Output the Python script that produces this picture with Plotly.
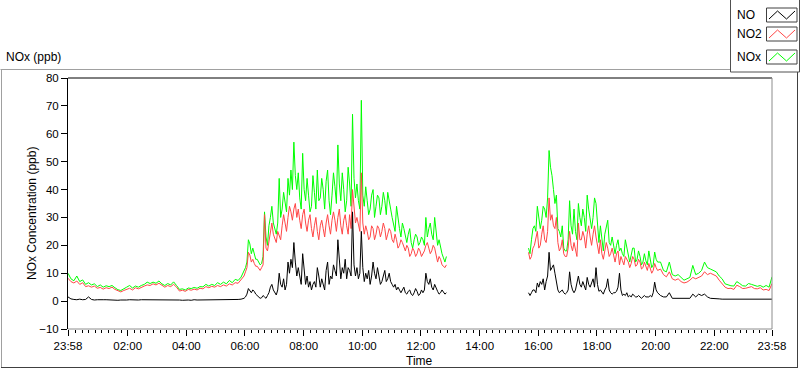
import plotly.graph_objects as go
import pandas as pd

# ---------------- data ----------------
# Night (quiet) part: 23:58 -> 05:52, one sample every 6 minutes
night_start, night_step = "2000-01-01 23:58", "6min"
no2_night = [8.2, 7.0, 6.5, 7.2, 6.0, 6.6, 5.2, 5.5, 5.0, 5.4,
             4.6, 4.9, 4.3, 4.8, 4.5, 5.0, 4.2, 3.6, 3.3, 3.8,
             4.3, 4.6, 4.0, 4.8, 4.4, 5.0, 5.4, 5.8, 5.6, 6.2,
             5.8, 6.4, 5.6, 5.0, 5.6, 5.2, 6.0, 5.0, 3.6, 3.9,
             3.5, 4.2, 3.9, 4.3, 4.0, 4.6, 4.4, 5.2, 4.8, 5.3,
             5.0, 5.6, 5.2, 5.8, 5.4, 6.2, 5.8, 6.6, 6.4, 7.6]
nox_night = [10.0, 8.0, 7.3, 9.0, 7.0, 7.6, 6.0, 6.6, 5.8, 6.2,
             5.2, 5.8, 5.0, 5.5, 5.2, 5.6, 4.8, 4.1, 3.8, 4.3,
             5.0, 5.6, 4.7, 5.4, 5.0, 5.6, 6.0, 6.8, 6.3, 6.8,
             6.4, 7.2, 6.2, 5.6, 6.3, 5.8, 6.9, 5.6, 4.2, 4.4,
             4.0, 4.7, 4.5, 4.9, 4.6, 5.2, 5.1, 6.0, 5.4, 6.0,
             5.6, 6.6, 6.0, 6.8, 6.2, 7.4, 6.6, 7.8, 7.4, 8.6]
no_night = [1.5, 0.8, 0.6, 0.5, 0.7, 0.5, 0.6, 1.5, 0.6, 0.4,
            0.5, 0.4, 0.5, 0.5, 0.4, 0.5, 0.4, 0.3, 0.4, 0.3,
            0.4, 0.5, 0.4, 0.3, 0.4, 0.5, 0.5, 0.4, 0.5, 0.4,
            0.5, 0.4, 0.5, 0.4, 0.5, 0.6, 0.5, 0.6, 0.4, 0.3,
            0.4, 0.4, 0.3, 0.5, 0.4, 0.4, 0.5, 0.5, 0.4, 0.5,
            0.6, 0.5, 0.5, 0.6, 0.6, 0.5, 0.6, 0.6, 0.6, 0.7]

# Morning peak: 05:58 -> 12:52, one sample every 3 minutes
morning_start, morning_step = "2000-01-02 05:58", "3min"
no2_morning = [9.0, 10.5, 12, 17.5, 16.5, 14, 15, 13.5, 12.5, 12.5,
               11.5, 11, 12, 13, 31, 19, 18, 22, 26, 28,
               24, 22, 21, 25, 23, 22, 27, 31, 28, 25,
               30, 34, 32, 29, 33, 35, 30, 33, 29, 26,
               31, 33, 28, 25, 29, 31, 26, 23, 27, 30,
               25, 22, 27, 29, 26, 23, 28, 31, 27, 24,
               29, 32, 29, 25, 30, 33, 27, 24, 29, 31,
               27, 24, 31, 26, 40, 33, 28, 30, 27, 25,
               46, 28, 24, 27, 25, 22, 23, 27, 26, 22,
               24, 27, 26, 23, 25, 28, 26, 22, 24, 26,
               25, 22, 21, 24, 22, 19, 20, 22, 21, 19,
               18, 20, 19, 16, 17, 19, 18, 16, 17, 19,
               18, 16, 17, 18, 20, 21, 19, 17, 18, 20,
               19, 16, 14, 16, 15, 13, 12.5, 12, 13]
nox_morning = [10.5, 12, 14, 22, 20.5, 17, 19, 17, 15, 15,
               14, 13, 13.5, 16, 32, 23, 20, 27, 30, 34,
               28, 26, 24, 28, 44, 30, 33, 39, 36, 32,
               44, 38, 47, 40, 57, 45, 40, 46, 37, 33,
               53, 40, 36, 44, 38, 32, 34, 45, 39, 33,
               47, 36, 37, 44, 40, 33, 43, 47, 36, 31,
               38, 46, 41, 35, 56, 42, 36, 46, 40, 32,
               36, 48, 42, 34, 67, 44, 37, 42, 36, 33,
               72, 38, 34, 41, 36, 31, 33, 38, 40, 30,
               34, 38, 37, 31, 34, 39, 36, 31, 39, 35,
               33, 30, 27, 25, 34, 29, 26, 23, 28, 26,
               23, 21, 24, 26, 21, 19, 22, 24, 23, 20,
               21, 23, 22, 20, 30, 23, 26, 28, 24, 22,
               30, 24, 20, 22, 19, 17, 15.5, 14, 16]
no_morning = [1.0, 1.5, 2.5, 4.5, 3.8, 3, 4.0, 3.5, 2.5, 2,
              1.5, 1, 1.2, 2, 1.5, 1, 2.0, 3, 5.0, 6,
              4.0, 3, 2.2, 4, 10, 6, 5, 8, 4, 6,
              14, 10, 15, 12, 21, 14, 9, 12, 8, 6,
              17, 10, 6, 9, 5, 7, 4, 6, 7, 5,
              12, 9, 5, 8, 6, 4, 11, 14, 6, 9,
              8, 13, 11, 9, 22, 14, 8, 12, 10, 15,
              8, 12, 11, 9, 32, 13, 9, 12, 8, 10,
              25, 12, 7, 10, 8, 11, 6, 9, 14, 10,
              8, 12, 9, 6, 7, 9, 11, 7, 8, 10,
              7, 6, 5, 6, 4, 5, 4, 3, 4, 5,
              3, 2.5, 3.5, 4, 2.5, 2, 3, 4.5, 3.5, 2,
              2.5, 4, 3, 4, 10, 7, 6, 8, 5, 4,
              6, 4.5, 3.5, 2.5, 3, 4, 3, 2.5, 3]

# Afternoon: 15:40 -> 20:04, one sample every 3 minutes
afternoon_start, afternoon_step = "2000-01-02 15:40", "3min"
no2_afternoon = [17.5, 15, 16, 19, 20, 22, 25, 19, 20, 24,
                 27, 22, 21, 25, 37, 29, 31, 27, 26, 30,
                 21, 18, 19, 22, 17, 16, 16, 19, 25, 20,
                 18, 21, 19, 16, 28, 22, 22, 25, 23, 19,
                 24, 27, 23, 20, 24, 27, 23, 19, 17, 22,
                 17, 15, 18, 21, 19, 16, 17, 19, 16.5, 14,
                 17, 18, 13, 16, 14.5, 13, 16, 15, 14, 12,
                 13.5, 16, 15, 12.5, 13, 15, 14, 11.5, 12, 14,
                 12, 11, 13.5, 12, 10, 11, 13.5, 12, 11]
nox_afternoon = [19, 17, 22, 26, 27, 25, 34, 30, 26, 29,
                 34, 33, 30, 37, 54, 48, 45, 40, 35, 38,
                 26, 25, 23, 27, 19, 18, 18, 22, 36, 27,
                 24, 33, 25, 22, 35, 30, 27, 33, 30, 25,
                 38, 33, 29, 26, 30, 37, 35, 26, 21, 27,
                 22, 18, 24, 26, 29, 21, 20, 23, 19, 17,
                 20, 22, 18, 19, 17, 16, 22, 19, 16, 14,
                 16.5, 19, 19, 14, 15, 18, 16, 13, 14, 17,
                 14.5, 13, 18, 15, 12, 13, 17.6, 15, 14]
no_afternoon = [3, 2, 3, 4, 4, 3, 6.5, 5, 7, 6,
                8, 4, 7, 9, 17.5, 11, 12, 13, 10, 6,
                4, 3, 3.5, 4, 3, 2.5, 3, 4, 10.5, 6,
                4, 3, 4, 6, 9, 6, 5, 7, 5, 4,
                8.5, 6, 5, 7, 8, 5, 12, 6, 3.5, 4,
                3, 2.5, 4, 5, 8, 4, 3, 2.5, 3, 3,
                3.5, 5, 10, 4, 2, 2.5, 2, 3, 1.5, 2,
                1.5, 2.5, 2, 1.5, 1.5, 2, 1.5, 1, 1.5, 2,
                1.5, 1.5, 1.5, 2, 1.5, 3, 6.8, 4, 3]

# Evening: 20:10 -> 23:58, one sample every 6 minutes
evening_start, evening_step = "2000-01-02 20:10", "6min"
no2_evening = [11.5, 9.5, 8.7, 10.5, 8,
               7.5, 8, 7, 6.5, 6.8, 7.5, 8.5, 8, 8.5, 9,
               10.5, 9.5, 10, 9.5, 9, 7.5, 6.3, 5, 4.5, 4.6,
               4.2, 5.7, 5.2, 4.5, 4.6, 5.0, 5.2, 4.5, 4.4, 4.8,
               4.0, 4.2, 3.8, 6.3]
nox_evening = [14, 11, 10.5, 14, 9.5,
               9, 9.5, 8.5, 7.5, 8, 8.5, 12.8, 9.5, 10, 11,
               14, 12, 11.5, 11, 10.5, 9, 8, 6.2, 5.7, 5.5,
               5.4, 7, 6.3, 5.5, 5.4, 6.3, 6.0, 5.7, 5.3, 5.6,
               5.0, 5.6, 5.0, 8.7]
no_evening = [2, 1.5, 1.5, 3, 1,
              1, 1, 1, 1, 1, 1, 2.5, 1.5, 2.5, 2,
              2.5, 1.5, 1, 1, 0.8, 0.8, 0.7, 0.7, 0.6, 0.7,
              0.6, 0.7, 0.6, 0.7, 0.6, 0.7, 0.6, 0.7, 0.6, 0.6,
              0.6, 0.7, 0.6, 0.7]

gap_time = "2000-01-02 14:00"   # no data between 12:52 and 15:40

x_start = "2000-01-01 23:58"
x_end = "2000-01-02 23:58"
tick_times = [x_start, "2000-01-02 02:00", "2000-01-02 04:00", "2000-01-02 06:00",
              "2000-01-02 08:00", "2000-01-02 10:00", "2000-01-02 12:00",
              "2000-01-02 14:00", "2000-01-02 16:00", "2000-01-02 18:00",
              "2000-01-02 20:00", "2000-01-02 22:00", x_end]
tick_labels = ["23:58", "02:00", "04:00", "06:00", "08:00", "10:00", "12:00",
               "14:00", "16:00", "18:00", "20:00", "22:00", "23:58"]
y_ticks = [-10, 0, 10, 20, 30, 40, 50, 60, 70, 80]

series_names = ["NO", "NO2", "NOx"]
series_colors = ["#000000", "#ff4646", "#00ff00"]

# ---------------- build ----------------
def rng(start, n, step):
    return list(pd.date_range(start, periods=n, freq=step))

times = (rng(night_start, len(no2_night), night_step)
         + rng(morning_start, len(no2_morning), morning_step)
         + [pd.Timestamp(gap_time)]
         + rng(afternoon_start, len(no2_afternoon), afternoon_step)
         + rng(evening_start, len(no2_evening), evening_step))

data = {
    "NO": no_night + no_morning + [None] + no_afternoon + no_evening,
    "NO2": no2_night + no2_morning + [None] + no2_afternoon + no2_evening,
    "NOx": nox_night + nox_morning + [None] + nox_afternoon + nox_evening,
}
colors = dict(zip(series_names, series_colors))

fig = go.Figure()
for name in ["NOx", "NO2", "NO"]:
    fig.add_trace(go.Scatter(x=times, y=data[name], mode="lines", name=name,
                             line=dict(color=colors[name], width=1),
                             connectgaps=False, showlegend=False,
                             hoverinfo="x+y+name"))

FONT = "Liberation Sans"
W, H = 800, 369
L, R, T, B = 68, 772, 78, 329

def px(x):
    return (x - L) / (R - L)

def py(y):
    return (B - y) / (B - T)

shapes = []
# plot-area frame: top black, right/bottom grey
shapes.append(dict(type="line", xref="paper", yref="paper", x0=0, x1=1, y0=1, y1=1,
                   line=dict(color="#000000", width=1)))
shapes.append(dict(type="line", xref="paper", yref="paper", x0=1, x1=1, y0=0, y1=1,
                   line=dict(color="#8c8c8c", width=1)))
shapes.append(dict(type="line", xref="paper", yref="paper", x0=0, x1=1, y0=0, y1=0,
                   line=dict(color="#8c8c8c", width=1)))
# outer panel frame
shapes.append(dict(type="line", xref="paper", yref="paper", x0=px(0.5), x1=px(730), y0=py(69.5), y1=py(69.5),
                   line=dict(color="#a0a0a0", width=1)))
shapes.append(dict(type="line", xref="paper", yref="paper", x0=px(1.5), x1=px(1.5), y0=py(69.5), y1=py(367.5),
                   line=dict(color="#a0a0a0", width=1)))
shapes.append(dict(type="line", xref="paper", yref="paper", x0=px(1), x1=px(798), y0=py(367.5), y1=py(367.5),
                   line=dict(color="#404040", width=1)))
shapes.append(dict(type="line", xref="paper", yref="paper", x0=px(797.5), x1=px(797.5), y0=py(72), y1=py(367.5),
                   line=dict(color="#404040", width=1)))
# legend box
shapes.append(dict(type="rect", xref="paper", yref="paper", x0=px(730.5), x1=px(799.5), y0=py(72), y1=py(-1),
                   line=dict(color="#505050", width=1), fillcolor="white"))

annotations = []
legend_rows = [("NO", 8, 22), ("NO2", 27, 41), ("NOx", 50, 64)]
for name, top, bot in legend_rows:
    shapes.append(dict(type="rect", xref="paper", yref="paper", x0=px(766.5), x1=px(797), y0=py(bot), y1=py(top),
                       line=dict(color="#404040", width=1), fillcolor="white"))
    path = "M {} {} L {} {} L {} {} L {} {}".format(
        px(769), py(bot - 3), px(777.5), py(top + 3), px(786.5), py(bot - 3), px(795), py(top + 3))
    shapes.append(dict(type="path", xref="paper", yref="paper", path=path,
                       line=dict(color=colors[name], width=1)))
    annotations.append(dict(text=name, xref="paper", yref="paper", x=px(735), y=py((top + bot) / 2),
                            xanchor="left", yanchor="middle", showarrow=False,
                            font=dict(family=FONT, size=12, color="black")))

annotations.append(dict(text="NOx (ppb)", xref="paper", yref="paper", x=px(4), y=py(57),
                        xanchor="left", yanchor="middle", showarrow=False,
                        font=dict(family=FONT, size=12, color="black")))
annotations.append(dict(text="NOx Concentration (ppb)", xref="paper", yref="paper", x=px(32), y=py(214),
                        xanchor="center", yanchor="middle", textangle=-90, showarrow=False,
                        font=dict(family=FONT, size=12, color="black")))
annotations.append(dict(text="Time", xref="paper", yref="paper", x=px(419), y=py(361),
                        xanchor="center", yanchor="middle", showarrow=False,
                        font=dict(family=FONT, size=12, color="black")))

fig.update_layout(
    width=W, height=H,
    margin=dict(l=L, r=W - R, t=T, b=H - B, pad=0),
    paper_bgcolor="white", plot_bgcolor="white",
    font=dict(family=FONT, size=12, color="black"),
    showlegend=False,
    shapes=shapes,
    annotations=annotations,
    xaxis=dict(
        type="date", range=[x_start, x_end],
        tickmode="array", tickvals=tick_times, ticktext=tick_labels,
        ticks="outside", ticklen=6, tickwidth=1, tickcolor="black",
        showgrid=False, zeroline=False, showline=False,
        tickfont=dict(family=FONT, size=11.5, color="black"),
        minor=dict(ticks="outside", ticklen=3, tickwidth=1, tickcolor="black",
                   tick0="2000-01-02 02:00", dtick=800000, showgrid=False),
        automargin=False,
    ),
    yaxis=dict(
        range=[-10, 80], tickmode="array", tickvals=y_ticks,
        ticks="outside", ticklen=6, tickwidth=1, tickcolor="black",
        showgrid=False, zeroline=False, showline=True, linecolor="black", linewidth=1,
        tickfont=dict(family=FONT, size=11.5, color="black"),
        automargin=False,
    ),
)

fig.write_html("out.html", config={"displayModeBar": False},
               post_script="document.body.style.margin='0px';document.body.style.padding='0px';document.body.style.overflow='hidden';")
